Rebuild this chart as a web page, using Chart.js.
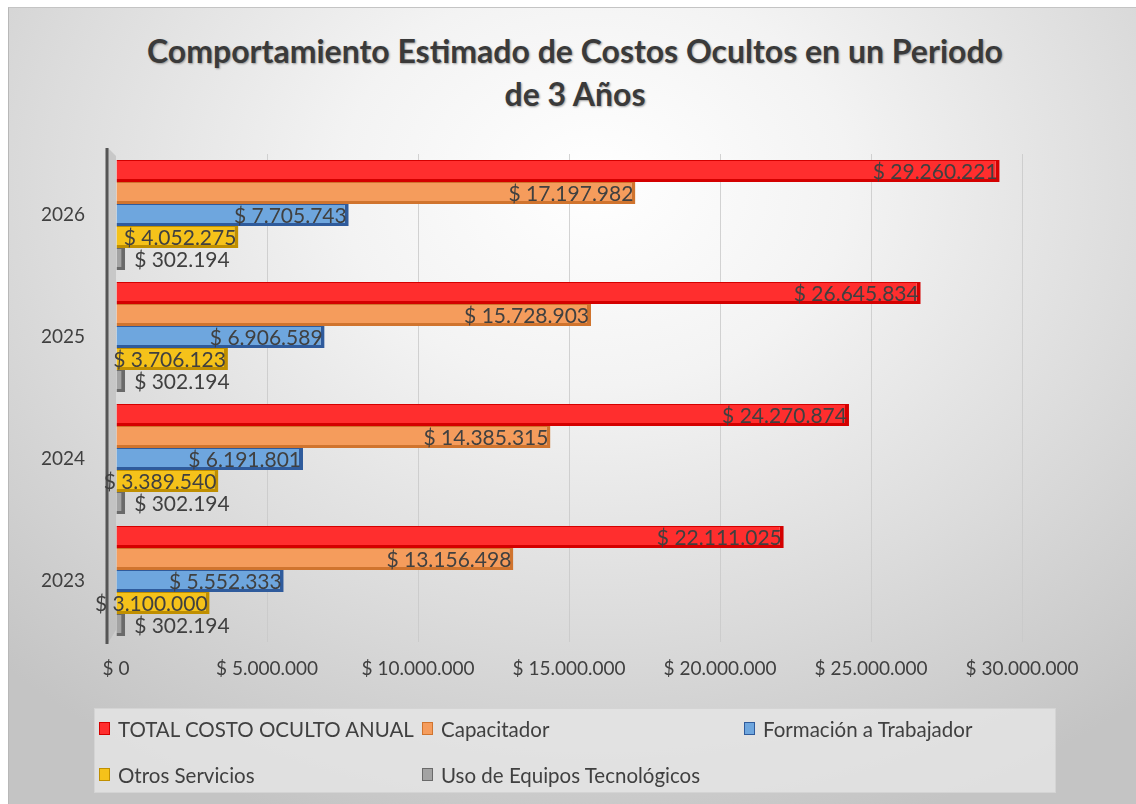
<!DOCTYPE html>
<html>
<head>
<meta charset="utf-8">
<script src="https://cdn.jsdelivr.net/npm/chart.js@4.4.1/dist/chart.umd.min.js"></script>
<style>
  html,body{margin:0;padding:0;background:#fff;width:1136px;height:804px;overflow:hidden;font-family:Lato,"Noto Sans",sans-serif;}
  #frame{position:absolute;left:8px;top:7px;width:1128px;height:797px;border-left:1px solid #b8b8b8;border-top:1px solid #c4c4c4;box-sizing:border-box;
    background:radial-gradient(ellipse 75% 85% at 52% 22%, #ffffff 0%, #f3f3f3 30%, #dcdcdc 65%, #c4c4c4 100%);}
  #title{position:absolute;left:0;width:1150px;top:29px;text-align:center;font-weight:bold;font-size:32px;line-height:43px;color:#3a3a3a;text-shadow:1px 1px 2px rgba(0,0,0,0.35);}
  canvas{position:absolute;left:0;top:0;}
  #legend{position:absolute;left:94px;top:708px;width:962px;height:85px;background:rgba(230,230,230,0.8);border:1px solid #d4d4d4;box-sizing:border-box;}
  .li{position:absolute;font-size:20.5px;color:#404040;white-space:nowrap;line-height:24px;}
  .sw{position:absolute;width:11px;height:13px;box-sizing:border-box;border:1px solid;}
</style>
</head>
<body>
<div id="frame"></div>
<div id="title">Comportamiento Estimado de Costos Ocultos en un Periodo<br>de 3 Años</div>
<canvas id="c" width="1136" height="804"></canvas>
<div id="legend"></div>
<script>
const categories = ['2026', '2025', '2024', '2023'];
const seriesNames = ['TOTAL COSTO OCULTO ANUAL', 'Capacitador', 'Formación a Trabajador', 'Otros Servicios', 'Uso de Equipos Tecnológicos'];
const totalCosto = [29260221, 26645834, 24270874, 22111025];
const capacitador = [17197982, 15728903, 14385315, 13156498];
const formacion = [7705743, 6906589, 6191801, 5552333];
const otrosServicios = [4052275, 3706123, 3389540, 3100000];
const usoEquipos = [302194, 302194, 302194, 302194];
const xTicks = [0, 5000000, 10000000, 15000000, 20000000, 25000000, 30000000];

const fills = ['#ff2e2e', '#f59c5c', '#6ea6de', '#f5c21a', '#a3a3a3'];
const edges = ['#d40000', '#d0742e', '#2f5b9c', '#c08f00', '#6a6a6a'];
const seriesValues = [totalCosto, capacitador, formacion, otrosServicios, usoEquipos];

function money(v){ return '$ ' + Math.round(v).toString().replace(/\B(?=(\d{3})+(?!\d))/g, '.'); }

const wallPlugin = {
  id: 'wall',
  beforeDatasetsDraw(chart){
    const {ctx, chartArea:a} = chart;
    ctx.save();
    ctx.fillStyle = 'rgba(180,180,180,0.55)';
    ctx.beginPath();
    ctx.moveTo(a.left-8, a.top-6);
    ctx.lineTo(a.left, a.top+2);
    ctx.lineTo(a.left, a.bottom-12);
    ctx.lineTo(a.left-8, a.bottom+1);
    ctx.closePath();
    ctx.fill();
    ctx.strokeStyle = '#555555';
    ctx.lineWidth = 3;
    ctx.beginPath();
    ctx.moveTo(a.left-9, a.top-6);
    ctx.lineTo(a.left-9, a.bottom+2);
    ctx.stroke();
    ctx.restore();
  }
};

const labelPlugin = {
  id: 'vlabels',
  afterDatasetsDraw(chart){
    const ctx = chart.ctx;
    ctx.save();
    ctx.font = '21px Lato, "Noto Sans", sans-serif';
    ctx.fillStyle = '#404040';
    ctx.textBaseline = 'middle';
    chart.data.datasets.forEach((ds, di) => {
      const meta = chart.getDatasetMeta(di);
      meta.data.forEach((el, i) => {
        const txt = money(ds.data[i]);
        if (di === 4){
          ctx.textAlign = 'left';
          ctx.fillText(txt, el.x + 9, el.y + 1);
        } else {
          ctx.textAlign = 'right';
          ctx.fillText(txt, el.x - 2, el.y + 1);
        }
      });
    });
    ctx.restore();
  }
};

const chart = new Chart(document.getElementById('c'), {
  type: 'bar',
  data: {
    labels: categories,
    datasets: seriesNames.map((n, k) => ({
      label: n,
      data: seriesValues[k],
      backgroundColor: fills[k],
      borderColor: edges[k],
      borderWidth: {top: 1, right: 4, bottom: 3, left: 0},
      borderSkipped: false,
      categoryPercentage: 0.9,
      barPercentage: 1.0
    }))
  },
  options: {
    indexAxis: 'y',
    responsive: false,
    animation: false,
    devicePixelRatio: 1,
    layout: {padding: {top: 154, right: 114, left: 0, bottom: 0}},
    plugins: {legend: {display: false}, title: {display: false}, tooltip: {enabled: false}},
    scales: {
      x: {
        min: 0, max: 30000000,
        afterBuildTicks(s){ s.ticks = xTicks.map(v => ({value: v})); },
        afterFit(s){ s.height = 162; },
        grid: {color: (c) => c.index === 0 ? 'rgba(0,0,0,0)' : 'rgba(200,200,200,0.8)', drawTicks: false},
        border: {display: false},
        ticks: {padding: 15, color: '#404040', font: {family: 'Lato', size: 19}, callback: (v) => money(v), maxRotation: 0, autoSkip: false}
      },
      y: {
        afterFit(s){ s.width = 116; },
        grid: {display: false, drawTicks: false},
        border: {display: false},
        ticks: {padding: 31, color: '#404040', font: {family: 'Lato', size: 19}}
      }
    }
  },
  plugins: [wallPlugin, labelPlugin]
});

// HTML legend built from the series
const legendPos = [[98, 728], [421, 728], [743, 728], [98, 774], [421, 774]];
const lg = document.getElementById('legend');
seriesNames.forEach((n, k) => {
  const [x, y] = legendPos[k];
  const sw = document.createElement('div');
  sw.className = 'sw';
  sw.style.left = (x - 94) + 'px';
  sw.style.top = (y - 708 - 7) + 'px';
  sw.style.background = fills[k];
  sw.style.borderColor = edges[k];
  lg.appendChild(sw);
  const t = document.createElement('div');
  t.className = 'li';
  t.textContent = n;
  t.style.left = (x - 94 + 19) + 'px';
  t.style.top = (y - 708 - 12) + 'px';
  lg.appendChild(t);
});
</script>
</body>
</html>
